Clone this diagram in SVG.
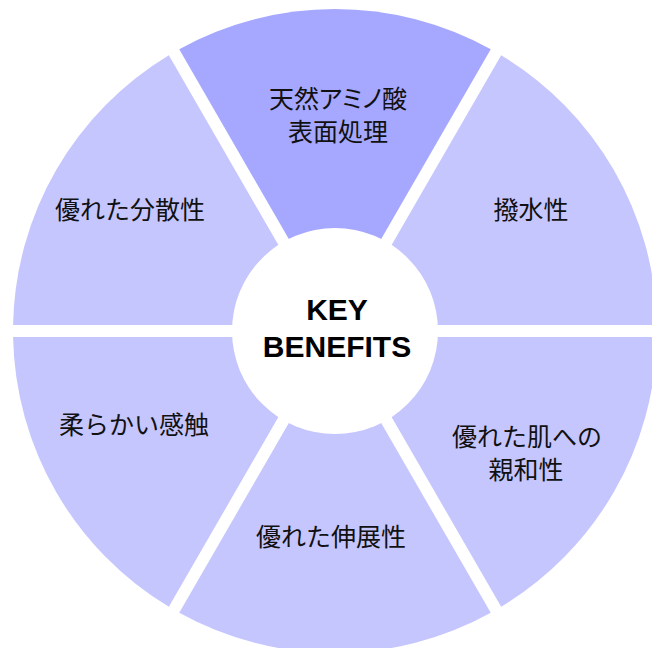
<svg xmlns="http://www.w3.org/2000/svg" width="652" height="648" viewBox="0 0 652 648">
  <style>
    .seg { fill: #C6C6FF; stroke: none; }
    .seg-hi { fill: #A6A8FF; }
    .lbl { font-family: "Noto Sans CJK JP", "Noto Sans", sans-serif; font-size: 25px; fill: #111111; text-anchor: middle; }
    .palt { font-feature-settings: "palt" 1; }
    .key { font-family: "Liberation Sans", Arial, sans-serif; font-weight: bold; font-size: 30px; fill: #000000; text-anchor: middle; }
  </style>
  <rect x="0" y="0" width="652" height="648" fill="#FFFFFF"/>
  <g id="connectors"/>
  <g id="seg-amino">
    <path class="seg seg-hi" d="M335,319 L179.23,49.19 A322,322 0 0 1 490.77,49.19 Z"/>
    <text class="lbl" x="338" y="107.5">天然<tspan class="palt">アミノ</tspan>酸</text>
    <text class="lbl" x="338" y="141">表面処理</text>
  </g>
  <g id="seg-water">
    <path class="seg" d="M345.39,325 L501.17,55.19 A322,322 0 0 1 656.94,325 Z"/>
    <text class="lbl" x="531" y="219">撥水性</text>
  </g>
  <g id="seg-skin">
    <path class="seg" d="M345.39,337 L656.94,337 A322,322 0 0 1 501.17,606.81 Z"/>
    <text class="lbl" x="527" y="445.5">優れた肌への</text>
    <text class="lbl" x="526" y="478.5">親和性</text>
  </g>
  <g id="seg-spread">
    <path class="seg" d="M335,343 L490.77,612.81 A322,322 0 0 1 179.23,612.81 Z"/>
    <text class="lbl" x="331" y="545.5">優れた伸展性</text>
  </g>
  <g id="seg-soft">
    <path class="seg" d="M324.61,337 L168.83,606.81 A322,322 0 0 1 13.06,337 Z"/>
    <text class="lbl" x="134" y="433.5">柔らかい感触</text>
  </g>
  <g id="seg-disperse">
    <path class="seg" d="M324.61,325 L13.06,325 A322,322 0 0 1 168.83,55.19 Z"/>
    <text class="lbl" x="130" y="218.5">優れた分散性</text>
  </g>
  <g id="center">
    <circle cx="335" cy="331" r="103" fill="#FFFFFF"/>
    <text class="key" x="337" y="320">KEY</text>
    <text class="key" x="337" y="357">BENEFITS</text>
  </g>
</svg>
